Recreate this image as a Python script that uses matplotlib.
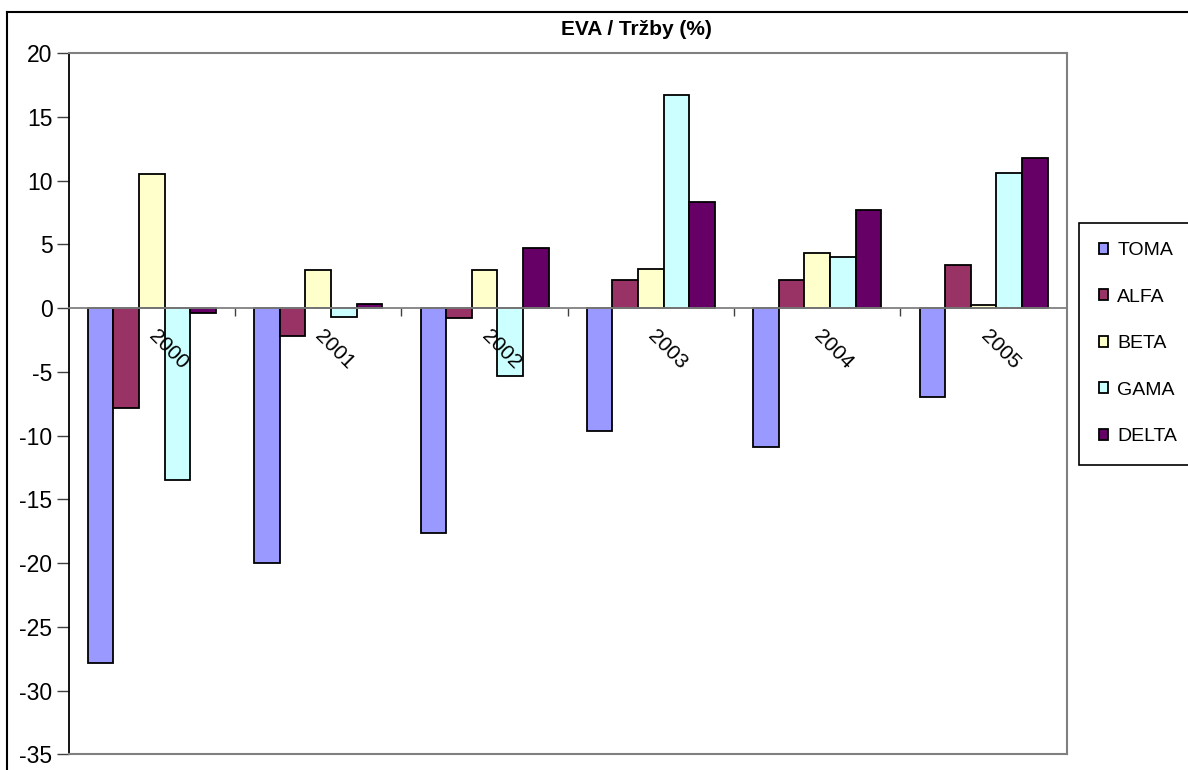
import numpy as np
import matplotlib
matplotlib.use('Agg')
import matplotlib.pyplot as plt
from matplotlib.lines import Line2D

plt.rcParams['font.family'] = ['Liberation Sans', 'DejaVu Sans']
plt.rcParams['axes.unicode_minus'] = False

# EVA / trzby v procentech
roky = ['2000', '2001', '2002', '2003', '2004', '2005']
toma = [-27.8, -20.0, -17.6, -9.6, -10.9, -7.0]
alfa = [-7.8, -2.2, -0.8, 2.2, 2.2, 3.4]
beta = [10.5, 3.0, 3.0, 3.1, 4.3, 0.25]
gama = [-13.5, -0.7, -5.3, 16.7, 4.0, 10.6]
delta = [-0.4, 0.35, 4.7, 8.3, 7.7, 11.8]

serie = ['TOMA', 'ALFA', 'BETA', 'GAMA', 'DELTA']
hodnoty = [toma, alfa, beta, gama, delta]
barvy = ['#9999FF', '#993366', '#FFFFCC', '#CCFFFF', '#660066']

W, H = 1188, 770
fig = plt.figure(figsize=(W/100, H/100), dpi=100)
ax = fig.add_axes([68.7/W, 1-754.3/H, (1066.7-68.7)/W, (754.3-53.3)/H])

x = np.arange(len(roky))
w = 1/6.5
for j in range(5):
    ax.bar(x + (j-2)*w, hodnoty[j], width=w, color=barvy[j], edgecolor='black',
           linewidth=1.3, label=serie[j], zorder=1)

ax.set_xlim(-0.5, 5.5)
ax.set_ylim(-35, 20)
ax.set_yticks(np.arange(-35, 21, 5))

# osa x vede nulou
ax.spines['bottom'].set_position(('data', 0))
ax.spines['bottom'].set_color('#808080')
ax.spines['bottom'].set_linewidth(1.3)
ax.spines['left'].set_color('black')
ax.spines['left'].set_linewidth(1.3)
for s in ['top', 'right']:
    ax.spines[s].set_color('#808080')
    ax.spines[s].set_linewidth(1.5)
ax.axhline(-35, color='#808080', lw=1.5, clip_on=False, zorder=5)

ax.set_xticks(x)
ax.set_xticklabels(roky)
ax.set_xticks(np.arange(0.5, 5.5, 1), minor=True)
ax.tick_params(axis='x', which='major', length=0, pad=18, labelsize=15)
ax.tick_params(axis='x', which='minor', length=6, width=1, color='#404040', direction='out')
plt.setp(ax.get_xticklabels(), rotation=-45, ha='left', va='center', rotation_mode='anchor')
ax.tick_params(axis='y', length=8.7, width=1, color='#404040', pad=3, labelsize=16.5)

fig.text(636/W, 1-29.5/H, 'EVA / Tržby (%)', ha='center', va='center',
         fontsize=15, fontweight='bold')

leg = ax.legend(loc='upper left', bbox_to_anchor=(1079.3/W, 1-464.3/H, 0.2, (464.3-222.7)/H),
                bbox_transform=fig.transFigure, mode='expand', fontsize=14,
                handlelength=0.5, handleheight=0.5, handletextpad=0.45,
                labelspacing=1.52, borderpad=1.0, fancybox=False, framealpha=1,
                borderaxespad=0)
leg.get_frame().set_edgecolor('black')
leg.get_frame().set_linewidth(1.2)

# vnejsi ramecek grafu
fig.add_artist(Line2D([7/W, 1], [1-12/H, 1-12/H], transform=fig.transFigure, color='black', lw=1.5))
fig.add_artist(Line2D([7/W, 7/W], [0, 1-12/H], transform=fig.transFigure, color='black', lw=1.5))

fig.savefig('out.png', dpi=100)
